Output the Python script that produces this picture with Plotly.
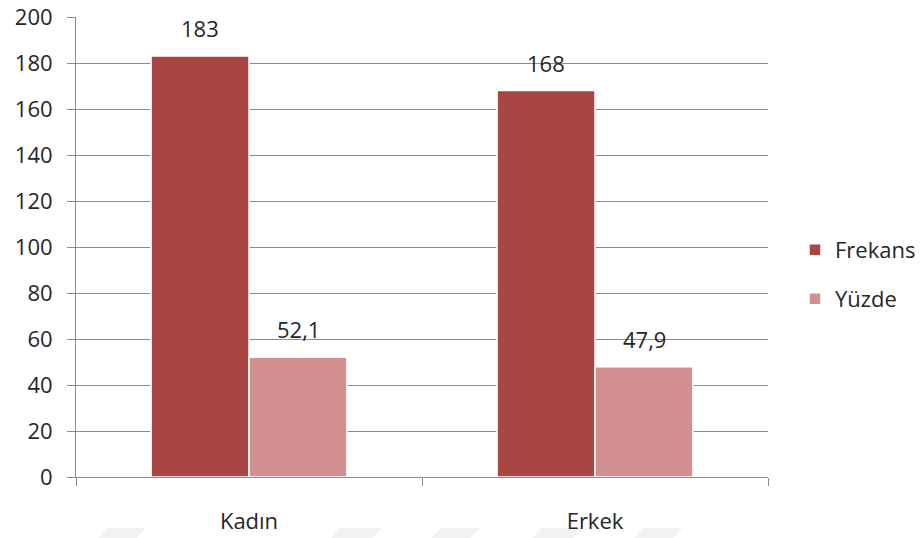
import plotly.graph_objects as go

# Gender distribution: frequency and percentage
categories = ["Kadın", "Erkek"]
frekans = [183, 168]
yuzde = [52.1, 47.9]
series_names = ["Frekans", "Yüzde"]
y_ticks = [0, 20, 40, 60, 80, 100, 120, 140, 160, 180, 200]

colors = ["#A84644", "#D29190"]
font_family = "Open Sans"
font_size = 22
text_color = "#262626"
grid_color = "#8C8C8C"

W, H = 922, 538


def fmt(v):
    s = f"{v:g}"
    return s.replace(".", ",")


fig = go.Figure()
for i, (name, vals) in enumerate(zip(series_names, [frekans, yuzde])):
    fig.add_trace(go.Bar(
        x=categories,
        y=vals,
        name=name,
        showlegend=True,
        marker=dict(color=colors[i], line=dict(color="#FFFFFF", width=1.5)),
        legend="legend" if i == 0 else "legend2",
    ))

# value labels above each bar
annotations = []
for i, vals in enumerate([frekans, yuzde]):
    shift = -49 if i == 0 else 49
    for c, v in zip(categories, vals):
        annotations.append(dict(
            x=c, y=v, xref="x", yref="y", text=fmt(v),
            showarrow=False, xshift=shift, yshift=28,
            yanchor="middle", xanchor="center",
            font=dict(family=font_family, size=font_size, color=text_color),
        ))

# faint band of diagonal marks along the bottom edge
bottom_marks = [(30, 93), (340, 407), (474, 538), (608, 674), (744, 808)]
shapes = []
for x0, x1 in bottom_marks:
    x0p, x1p = x0 / W, x1 / W
    slant = 12 / W
    shapes.append(dict(
        type="path", xref="paper", yref="paper", layer="below",
        path=f"M {x0p} {-61/460} L {x0p + slant} {-51/460} L {x1p} {-51/460} L {x1p - slant} {-61/460} Z",
        fillcolor="#F2F2F2", line=dict(width=0),
    ))


def legend_box(y_px):
    return dict(
        x=795 / W, y=1 - y_px / H, xref="container", yref="container",
        xanchor="left", yanchor="middle",
        font=dict(family=font_family, size=font_size, color=text_color),
        bgcolor="rgba(0,0,0,0)",
    )


fig.update_layout(
    width=W, height=H,
    showlegend=True,
    margin=dict(l=76, r=154, t=17, b=61, autoexpand=False),
    paper_bgcolor="#FFFFFF", plot_bgcolor="#FFFFFF",
    barmode="group", bargap=0.434, bargroupgap=0.0,
    font=dict(family=font_family, size=font_size, color=text_color),
    annotations=annotations,
    shapes=shapes,
    legend=legend_box(250),
    legend2=legend_box(299),
    xaxis=dict(
        type="category",
        showgrid=False,
        showline=True, linecolor=grid_color, linewidth=1,
        ticks="outside", tickson="boundaries", ticklen=8,
        tickcolor=grid_color, tickwidth=1,
        ticklabelstandoff=25,
        tickfont=dict(family=font_family, size=font_size, color=text_color),
        zeroline=False,
    ),
    yaxis=dict(
        range=[0, 200],
        tickmode="array", tickvals=y_ticks,
        showgrid=True, gridcolor=grid_color, gridwidth=1,
        showline=True, linecolor=grid_color, linewidth=1,
        ticks="outside", ticklen=8, tickcolor=grid_color, tickwidth=1,
        ticklabelstandoff=10,
        tickfont=dict(family=font_family, size=font_size, color=text_color),
        zeroline=False,
    ),
)

fig.write_html("out.html")
